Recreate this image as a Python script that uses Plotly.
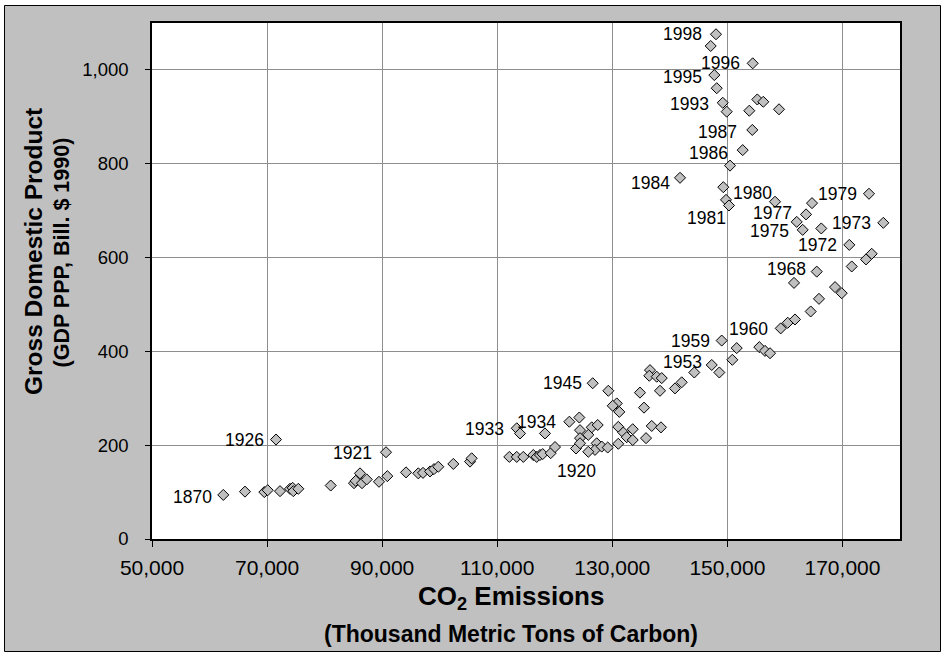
import plotly.graph_objects as go

# Carbon emissions (thousand metric tons of carbon) vs GDP (PPP, bill. 1990 $)
co2 = [62390, 66160, 69520, 70110, 72250, 73980, 74450, 74560, 75430, 71550,
       81060, 85110, 85400, 86150, 86500, 87320, 89450, 90900, 90670, 94150,
       96280, 97100, 98320, 99010, 99760, 102370, 105270, 105560, 112100, 113390,
       114530, 116270, 116860, 117430, 117900, 119290, 120040, 113390, 113960, 118300,
       122530, 124270, 124390, 126420, 127460, 124390, 125830, 123690, 124390, 127290,
       126990, 128160, 129200, 125830, 126590, 129310, 130770, 130070, 131220, 131040,
       131910, 133550, 132500, 131040, 133550, 135860, 134810, 135510, 136850, 138460,
       136550, 136430, 137720, 138590, 138290, 140900, 142060, 144250, 147280, 148600,
       149010, 151620, 150860, 155550, 156540, 157410, 159270, 160490, 161750, 164480,
       165920, 168710, 169870, 171610, 174090, 175080, 161580, 165530, 171190, 177100,
       166320, 163090, 162050, 163670, 164710, 174610, 158280, 149760, 150280, 149290,
       141770, 150460, 152660, 154330, 158970, 155200, 156240, 153810, 149880, 149190,
       148150, 147730, 154400, 147100, 148020]

gdp = [94, 101, 100, 104, 102, 107, 109, 102, 107, 212,
       114, 119, 124, 140, 119, 127, 122, 134, 185, 142,
       140, 141, 144, 149, 154, 160, 165, 172, 175, 175,
       175, 179, 175, 179, 181, 183, 196, 236, 225, 225,
       250, 259, 232, 238, 243, 215, 222, 193, 204, 204,
       190, 197, 195, 186, 332, 316, 289, 284, 271, 239,
       227, 234, 217, 203, 211, 215, 312, 280, 241, 238,
       360, 348, 346, 343, 316, 321, 334, 355, 371, 355,
       423, 407, 382, 409, 401, 396, 449, 461, 468, 485,
       512, 537, 524, 581, 596, 608, 546, 570, 627, 674,
       662, 659, 676, 692, 716, 736, 719, 723, 711, 750,
       770, 796, 829, 872, 916, 937, 932, 913, 911, 930,
       961, 989, 1014, 1051, 1076]

# Year shown next to a point ("" = no label)
year_label = ["1870", "", "", "", "", "", "", "", "", "1926",
              "", "", "", "", "", "", "", "", "1921", "",
              "", "", "", "", "", "", "", "", "", "",
              "", "", "", "", "", "", "", "1933", "", "",
              "1934", "", "", "", "", "", "", "1920", "", "",
              "", "", "", "", "1945", "", "", "", "", "",
              "", "", "", "", "", "", "", "", "", "",
              "", "", "", "", "", "", "", "", "1953", "",
              "1959", "", "", "", "", "", "1960", "", "", "",
              "", "", "", "", "", "", "", "1968", "1972", "1973",
              "", "1975", "", "1977", "", "1979", "1980", "", "1981", "",
              "1984", "", "1986", "1987", "", "", "", "", "", "1993",
              "", "1995", "1996", "", "1998"]

x_ticks = [50000, 70000, 90000, 110000, 130000, 150000, 170000]
y_ticks = [0, 200, 400, 600, 800, 1000]

# ---- layout geometry (pixels) ----
W, H = 945, 656
L, R, T, B = 152, 900, 23, 539


def px_x(px):
    return (px - L) / (R - L)


def px_y(py):
    return (B - py) / (B - T)


FONT = "Liberation Sans, Arial, sans-serif"

# label placement: (pixels left of the point to the text's right edge, pixels down)
LABEL_OFFSETS = {
    "1870": (10, 1.7), "1926": (11, 0.7), "1921": (13, 0.3), "1933": (11.7, 1),
    "1934": (12, 0.6), "1945": (9.4, 0), "1953": (9, -3.3), "1959": (11, 0),
    "1960": (11.4, 1), "1968": (10, -2.4), "1972": (11, 0), "1973": (11.6, 0.6),
    "1975": (12.7, 1), "1977": (12.7, -1), "1979": (11, 0), "1980": (1.7, -8.4),
    "1981": (2.3, 12.8), "1984": (9.3, 5), "1986": (13.4, 2.7), "1987": (14, 1.7),
    "1993": (12.7, 1.3), "1995": (11.6, 1.7), "1996": (12, 0), "1998": (12.7, 0),
}
BELOW_LABELS = {"1920": 23}

fig = go.Figure()
fig.add_trace(go.Scatter(
    x=co2, y=gdp, mode="markers",
    marker=dict(symbol="diamond", size=8.5, color="#C0C0C0",
                line=dict(color="black", width=1)),
    hoverinfo="skip", showlegend=False,
))

annotations = []
for xv, yv, lab in zip(co2, gdp, year_label):
    if not lab:
        continue
    if lab in BELOW_LABELS:
        annotations.append(dict(
            x=xv, y=yv, xref="x", yref="y", text=lab, showarrow=False,
            xanchor="center", yanchor="middle", yshift=-BELOW_LABELS[lab],
            font=dict(family=FONT, size=17.5, color="black")))
    else:
        gap, dy = LABEL_OFFSETS[lab]
        annotations.append(dict(
            x=xv, y=yv, xref="x", yref="y", text=lab, showarrow=False,
            xanchor="right", yanchor="middle", xshift=-(gap - 1), yshift=-dy,
            font=dict(family=FONT, size=17.5, color="black")))

# axis titles
annotations += [
    dict(text="<b>Gross Domestic Product</b>", x=px_x(33), y=px_y(252),
         xref="paper", yref="paper", showarrow=False, textangle=-90,
         xanchor="center", yanchor="middle",
         font=dict(family=FONT, size=24.5, color="black")),
    dict(text="<b>(GDP PPP, Bill. $ 1990)</b>", x=px_x(61), y=px_y(252.5),
         xref="paper", yref="paper", showarrow=False, textangle=-90,
         xanchor="center", yanchor="middle",
         font=dict(family=FONT, size=21.5, color="black")),
    dict(text="<b>CO<sub>2</sub> Emissions</b>", x=px_x(511), y=px_y(597),
         xref="paper", yref="paper", showarrow=False,
         xanchor="center", yanchor="middle",
         font=dict(family=FONT, size=26, color="black")),
    dict(text="<b>(Thousand Metric Tons of Carbon)</b>", x=px_x(511), y=px_y(634),
         xref="paper", yref="paper", showarrow=False,
         xanchor="center", yanchor="middle",
         font=dict(family=FONT, size=23, color="black")),
]

shapes = [
    # thin white margin round the chart
    dict(type="rect", xref="paper", yref="paper",
         x0=px_x(2), x1=px_x(943), y0=px_y(654), y1=px_y(2.5),
         line=dict(color="white", width=5), fillcolor="rgba(0,0,0,0)", layer="above"),
    # chart frame
    dict(type="rect", xref="paper", yref="paper",
         x0=px_x(4.5), x1=px_x(940.5), y0=px_y(651.5), y1=px_y(5.5),
         line=dict(color="black", width=1), fillcolor="rgba(0,0,0,0)", layer="above"),
]

axis_common = dict(
    showgrid=True, gridcolor="#8E8E8E", gridwidth=1,
    showline=True, linecolor="black", linewidth=1.5, mirror=True,
    ticks="outside", tickcolor="black", tickwidth=1,
    zeroline=False, tickformat=",",
)

fig.update_layout(
    width=W, height=H, autosize=False,
    margin=dict(l=L, r=W - R, t=T, b=H - B, pad=0),
    paper_bgcolor="#C0C0C0", plot_bgcolor="white",
    xaxis=dict(range=[50000, 180000], tickvals=x_ticks, ticklen=6,
               tickfont=dict(family=FONT, size=21, color="black"),
               ticklabelstandoff=3, **axis_common),
    yaxis=dict(range=[0, 1100], tickvals=y_ticks, ticklen=5,
               tickfont=dict(family=FONT, size=18.5, color="black"),
               ticklabelstandoff=13, **axis_common),
    annotations=annotations,
    shapes=shapes,
    showlegend=False,
)

fig.write_html("out.html")
